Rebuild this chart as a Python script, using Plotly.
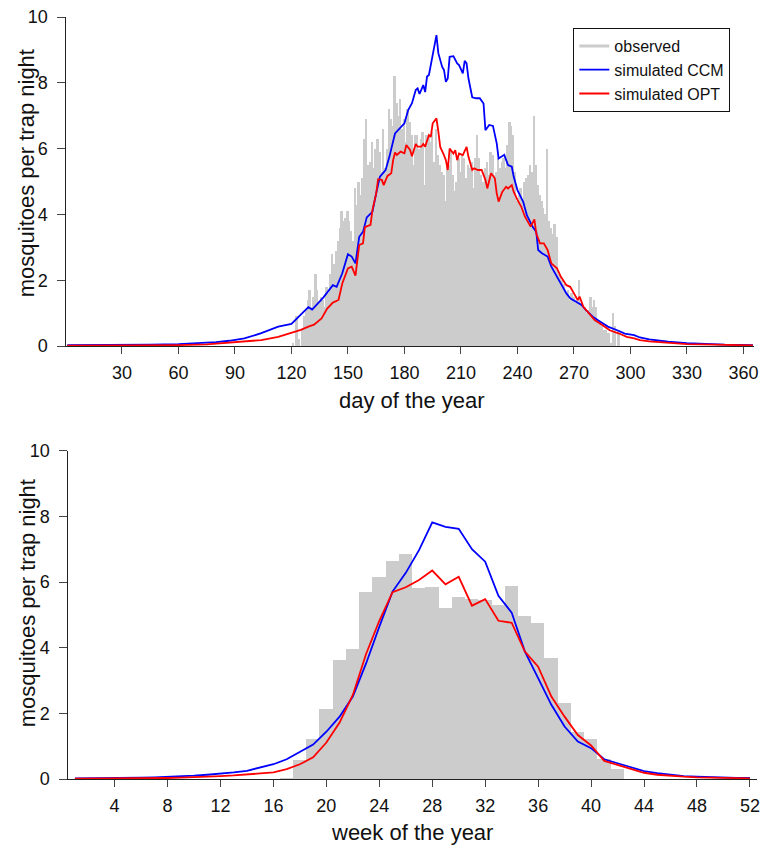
import plotly.graph_objects as go

# ---------------- daily data (top panel) ----------------
obs_day_start = 121
obs_daily = [
    0.1, 0.0, 0.9, 0.2, 0.0, 0.5, 0.9, 1.1, 1.4, 1.7,   # 121-130
    1.2, 1.5, 2.2, 1.7, 1.3, 1.5, 1.4, 1.2, 1.8, 1.6,   # 131-140
    2.2, 2.8, 2.5, 2.9, 3.2, 3.6, 4.1, 3.8, 3.9, 4.1,   # 141-150
    3.8, 3.5, 3.2, 4.8, 4.3, 5.0, 4.6, 5.1, 6.3, 6.9,   # 151-160
    5.5, 5.6, 6.2, 5.4, 6.0, 6.3, 5.9, 5.3, 6.6, 5.4,   # 161-170
    6.0, 7.2, 6.9, 6.7, 8.2, 7.4, 7.0, 7.5, 6.6, 6.9,   # 171-180
    6.2, 7.2, 6.8, 6.4, 5.5, 6.4, 6.4, 6.0, 6.3, 6.5,   # 181-190
    4.9, 6.4, 6.4, 6.2, 6.5, 5.6, 6.6, 5.8, 5.5, 5.3,   # 191-200
    5.2, 4.4, 5.6, 5.5, 5.9, 5.2, 4.7, 5.0, 5.7, 5.3,   # 201-210
    5.8, 5.7, 5.1, 5.5, 5.4, 5.6, 4.8, 5.7, 6.4, 5.7,   # 211-220
    5.2, 5.0, 5.4, 5.6, 5.2, 5.9, 5.8, 5.2, 5.3, 5.7,   # 221-230
    5.4, 5.6, 5.7, 5.4, 6.1, 6.8, 6.7, 6.4, 5.3, 4.4,   # 231-240
    4.6, 4.8, 4.4, 5.0, 5.1, 5.2, 5.5, 5.3, 7.0, 5.5,   # 241-250
    4.9, 4.6, 4.4, 4.2, 4.0, 6.0, 3.8, 3.6, 3.4, 3.7,   # 251-260
    3.3, 2.2, 2.2, 2.0, 1.9, 1.6, 1.7, 1.4, 1.6, 1.5,   # 261-270
    1.3, 1.4, 2.0, 1.3, 1.2, 1.2, 1.0, 1.1, 1.5, 1.2,   # 271-280
    1.4, 1.2, 0.8, 0.7, 0.6, 0.5, 0.5, 0.4, 0.4, 0.1,   # 281-290
    1.0, 0.6, 0.0, 0.5,                                 # 291-294
]
obs_days = list(range(obs_day_start, obs_day_start + len(obs_daily)))

ccm_days = [1, 15, 30, 45, 60, 70, 80, 87, 95, 104, 113, 120, 123, 129, 131, 137,
            142, 144, 147, 150, 152, 154, 156, 158, 160, 163, 165, 167, 170, 172,
            175, 178, 180, 182, 184, 186, 187, 188, 190, 191, 192, 193, 195, 197,
            198, 200, 201, 202, 203, 204, 206, 208, 209, 211, 212, 213, 214, 216,
            218, 220, 222, 223, 225, 227, 229, 230, 233, 235, 237, 238, 240, 243,
            245, 248, 250, 251, 253, 256, 258, 260, 263, 266, 268, 272, 274, 277,
            280, 284, 288, 293, 297, 302, 305, 310, 320, 330, 340, 350, 365]
ccm_daily = [0.03, 0.03, 0.03, 0.04, 0.06, 0.08, 0.12, 0.16, 0.23, 0.39, 0.59, 0.67,
             0.84, 1.18, 1.11, 1.48, 1.85, 1.80, 2.21, 2.79, 2.72, 2.51, 3.32, 3.47,
             3.91, 4.08, 4.64, 5.15, 5.35, 5.75, 6.46, 6.65, 6.77, 7.17, 7.38, 7.78,
             7.83, 7.66, 7.93, 7.72, 8.19, 8.24, 8.79, 9.45, 8.90, 8.49, 8.39, 8.03,
             8.13, 8.79, 8.81, 8.59, 8.54, 8.29, 8.67, 8.59, 8.13, 7.56, 7.53, 7.53,
             7.37, 6.56, 6.72, 6.69, 6.16, 5.70, 5.81, 5.50, 5.45, 5.15, 4.74, 4.39,
             3.98, 3.63, 3.47, 2.92, 2.82, 2.72, 2.41, 2.21, 1.91, 1.60, 1.45, 1.30,
             1.25, 1.05, 0.89, 0.74, 0.59, 0.48, 0.38, 0.33, 0.26, 0.20, 0.13, 0.09,
             0.06, 0.04, 0.03]

opt_days = [1, 30, 45, 60, 75, 87, 95, 104, 113, 120, 125, 129, 132, 136, 139, 142,
            145, 147, 150, 152, 154, 156, 158, 159, 162, 163, 165, 166, 168, 169,
            171, 173, 174, 175, 176, 178, 180, 181, 183, 184, 186, 187, 189, 190,
            191, 193, 194, 195, 197, 198, 199, 201, 202, 203, 204, 206, 207, 208,
            209, 211, 213, 214, 216, 217, 219, 221, 223, 224, 226, 228, 229, 230,
            232, 234, 235, 237, 238, 240, 242, 244, 246, 247, 249, 250, 252, 254,
            256, 258, 261, 263, 266, 268, 270, 272, 273, 275, 278, 281, 285, 289,
            294, 298, 302, 305, 310, 320, 330, 345, 365]
opt_daily = [0.01, 0.01, 0.02, 0.03, 0.05, 0.10, 0.12, 0.18, 0.28, 0.39, 0.49, 0.59,
             0.65, 0.84, 1.14, 1.32, 1.40, 1.90, 2.36, 2.41, 2.14, 3.07, 3.12, 3.61,
             3.68, 4.13, 4.64, 5.07, 5.05, 4.89, 5.17, 5.25, 5.65, 5.88, 5.81, 5.91,
             5.86, 6.11, 5.96, 5.77, 6.14, 6.06, 6.06, 6.14, 6.06, 6.41, 6.36, 6.77,
             6.92, 6.52, 6.05, 5.80, 5.65, 5.35, 6.00, 5.85, 5.95, 5.65, 5.85, 5.80,
             6.05, 5.75, 5.35, 5.40, 5.35, 5.35, 5.05, 4.79, 5.25, 5.10, 4.64, 4.39,
             4.69, 4.84, 4.79, 4.89, 4.69, 4.44, 4.24, 3.93, 3.73, 3.63, 3.85, 3.42,
             3.12, 3.12, 2.92, 2.51, 2.36, 2.11, 1.85, 1.80, 1.60, 1.40, 1.50, 1.19,
             0.99, 0.79, 0.64, 0.48, 0.38, 0.28, 0.23, 0.18, 0.14, 0.09, 0.06, 0.04,
             0.02]

day_ticks = [30, 60, 90, 120, 150, 180, 210, 240, 270, 300, 330, 360]

# ---------------- weekly data (bottom panel) ----------------
obs_weeks = list(range(17, 43))
obs_weekly = [0.04, 0.58, 1.24, 2.13, 3.62, 3.96, 5.70, 6.15, 6.64, 6.85, 5.83, 5.85,
              5.21, 5.54, 5.49, 5.45, 5.30, 5.88, 4.96, 4.75, 3.69, 2.31, 1.44, 1.22,
              0.63, 0.30]

weeks = list(range(1, 53))
ccm_weekly = [0.02, 0.02, 0.02, 0.03, 0.03, 0.04, 0.05, 0.06, 0.08, 0.10, 0.13, 0.16,
              0.20, 0.25, 0.34, 0.45, 0.60, 0.83, 1.05, 1.44, 1.90, 2.51, 3.52, 4.64,
              5.71, 6.28, 6.97, 7.82, 7.68, 7.62, 7.00, 6.62, 5.58, 5.07, 3.88, 3.07,
              2.26, 1.60, 1.14, 0.94, 0.60, 0.48, 0.35, 0.24, 0.18, 0.13, 0.09, 0.07,
              0.05, 0.04, 0.03, 0.03]
opt_weekly = [0.01, 0.01, 0.01, 0.01, 0.02, 0.02, 0.02, 0.03, 0.04, 0.05, 0.07, 0.09,
              0.11, 0.14, 0.16, 0.20, 0.30, 0.45, 0.66, 1.11, 1.72, 2.56, 3.81, 4.82,
              5.69, 5.84, 6.06, 6.35, 5.93, 6.16, 5.28, 5.48, 4.82, 4.76, 3.88, 3.42,
              2.51, 1.90, 1.34, 1.02, 0.55, 0.43, 0.30, 0.19, 0.13, 0.09, 0.07, 0.05,
              0.04, 0.03, 0.02, 0.02]

week_ticks = [4, 8, 12, 16, 20, 24, 28, 32, 36, 40, 44, 48, 52]
y_ticks = [0, 2, 4, 6, 8, 10]

GRAY = "#CCCCCC"
BLUE = "#0000FF"
RED = "#FF0000"
FONT = "Liberation Sans, Arial, Helvetica, sans-serif"

fig = go.Figure()

# top panel
fig.add_trace(go.Bar(x=obs_days, y=obs_daily, width=1, marker=dict(color=GRAY, line=dict(width=0)),
                     showlegend=False, xaxis="x", yaxis="y"))
fig.add_trace(go.Scatter(x=ccm_days, y=ccm_daily, mode="lines", line=dict(color=BLUE, width=1.8),
                         showlegend=False, xaxis="x", yaxis="y"))
fig.add_trace(go.Scatter(x=opt_days, y=opt_daily, mode="lines", line=dict(color=RED, width=1.8),
                         showlegend=False, xaxis="x", yaxis="y"))

# bottom panel
fig.add_trace(go.Bar(x=obs_weeks, y=obs_weekly, width=1, marker=dict(color=GRAY, line=dict(width=0)),
                     showlegend=False, xaxis="x2", yaxis="y2"))
fig.add_trace(go.Scatter(x=weeks, y=ccm_weekly, mode="lines", line=dict(color=BLUE, width=1.8),
                         showlegend=False, xaxis="x2", yaxis="y2"))
fig.add_trace(go.Scatter(x=weeks, y=opt_weekly, mode="lines", line=dict(color=RED, width=1.8),
                         showlegend=False, xaxis="x2", yaxis="y2"))

# legend entries (line samples)
fig.add_trace(go.Scatter(x=[None], y=[None], mode="lines", name="observed",
                         line=dict(color=GRAY, width=3), xaxis="x", yaxis="y"))
fig.add_trace(go.Scatter(x=[None], y=[None], mode="lines", name="simulated CCM",
                         line=dict(color=BLUE, width=1.8), xaxis="x", yaxis="y"))
fig.add_trace(go.Scatter(x=[None], y=[None], mode="lines", name="simulated OPT",
                         line=dict(color=RED, width=1.8), xaxis="x", yaxis="y"))

axis_common = dict(showgrid=False, zeroline=False, showline=True, linecolor="#222222",
                   linewidth=1, ticks="outside", tickcolor="#444444", tickwidth=1,
                   tickfont=dict(family=FONT, size=18, color="#111111"))

fig.update_layout(
    width=767, height=846,
    margin=dict(l=66, r=5, t=17, b=67),
    paper_bgcolor="white", plot_bgcolor="white",
    bargap=0,
    font=dict(family=FONT, color="#111111"),
    xaxis=dict(domain=[0.0005, 0.9954], range=[0.5, 365.5], tickvals=day_ticks,
               ticklen=7, ticklabelstandoff=3, anchor="y", **axis_common),
    yaxis=dict(domain=[0.5682, 1.0], range=[0, 10], tickvals=y_ticks,
               ticklen=8, ticklabelstandoff=6, anchor="x", **axis_common),
    xaxis2=dict(domain=[0.0033, 0.9993], range=[0.5, 52.5], tickvals=week_ticks,
                ticklen=7, ticklabelstandoff=3, anchor="y2", **axis_common),
    yaxis2=dict(domain=[0.0, 0.4308], range=[0, 10], tickvals=y_ticks,
                ticklen=8, ticklabelstandoff=6, anchor="x2", **axis_common),
    legend=dict(x=(577 - 66) / 696, y=(779 - 28) / 762, xanchor="left", yanchor="top",
                bgcolor="white", bordercolor="#111111", borderwidth=1,
                font=dict(family=FONT, size=16, color="#111111"),
                itemwidth=30, tracegroupgap=0),
    annotations=[
        dict(text="day of the year", xref="paper", yref="paper", x=0.5, y=(779 - 400) / 762,
             xanchor="center", yanchor="middle", showarrow=False,
             font=dict(family=FONT, size=22, color="#111111")),
        dict(text="week of the year", xref="paper", yref="paper", x=0.5, y=(779 - 832) / 762,
             xanchor="center", yanchor="middle", showarrow=False,
             font=dict(family=FONT, size=22, color="#111111")),
        dict(text="mosquitoes per trap night", xref="paper", yref="paper",
             x=(27 - 66) / 696, y=(779 - 173) / 762, textangle=-90,
             xanchor="center", yanchor="middle", showarrow=False,
             font=dict(family=FONT, size=22, color="#111111")),
        dict(text="mosquitoes per trap night", xref="paper", yref="paper",
             x=(27 - 66) / 696, y=(779 - 603) / 762, textangle=-90,
             xanchor="center", yanchor="middle", showarrow=False,
             font=dict(family=FONT, size=22, color="#111111")),
    ],
)

fig.write_html("out.html", config={"displayModeBar": False},
               post_script="document.body.style.margin='0px';document.body.style.padding='0px';")
